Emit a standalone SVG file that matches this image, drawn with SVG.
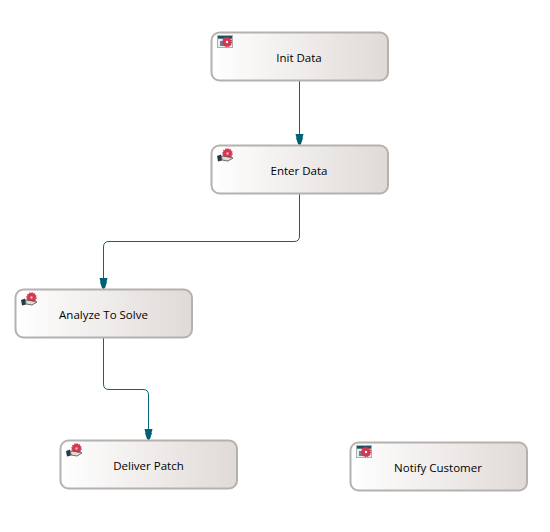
<svg xmlns="http://www.w3.org/2000/svg" width="550" height="532" viewBox="0 0 550 532">
<style>
.box{fill:url(#g);stroke:#b4b1ae;stroke-width:2}
.t{font-family:"Open Sans","Liberation Sans",sans-serif;font-size:11.5px;fill:#000;text-anchor:middle}
.c{fill:none;stroke:#006a7c;stroke-width:1}
.gear{fill:#d2384f;stroke:#d2384f;stroke-width:1.500;stroke-dasharray:1.300 1}
.hub{fill:#fff}
</style>
<defs>
<linearGradient id="g" x1="0" y1="0" x2="1" y2="0"><stop offset="0" stop-color="#fff"/><stop offset="1" stop-color="#e0dad7"/></linearGradient>
<marker id="a" markerUnits="userSpaceOnUse" markerWidth="14" markerHeight="10" refX="12" refY="5" orient="auto" viewBox="0 0 14 10"><path d="M1 1 L5 2 V8 L1 9 Z M5 1.500 L11 3.500 L12 5 L11 6.500 L5 8.500 Z" fill="#006073"/></marker>
<g id="win">
<rect x="0" y="0" width="16" height="13" fill="#a9b0b3"/>
<rect x="1" y="1" width="14" height="2.500" fill="#1e4f66"/>
<rect x="1" y="4" width="14" height="8" fill="#e8eef0"/>
<rect x="3" y="6" width="4" height="5" fill="#6f7f8f"/>
<circle cx="10" cy="7" r="4.500" class="gear"/>
<circle cx="10" cy="7" r="1.200" class="hub"/>
</g>
<g id="hand">
<circle cx="10.500" cy="5.500" r="4.500" class="gear"/>
<circle cx="10.500" cy="5.500" r="1.200" fill="#f3b9c2"/>
<path d="M0 8 L4 6.500 L5 12.500 L1 13.500 Z" fill="#243a4a"/>
<path d="M4.500 8 L9 8.500 L16 10 L11 13 L5 12 Z" fill="#e8d8cc" stroke="#4a4a50" stroke-width=".8"/>
</g>
</defs>
<g id="connectors">
<path class="c" marker-end="url(#a)" d="M299.500 81 V145"/>
<path class="c" marker-end="url(#a)" d="M299.500 194 V236 Q299.500 241.500 294 241.500 H109 Q103.500 241.500 103.500 247 V289"/>
<path class="c" marker-end="url(#a)" d="M103.500 338 V384 Q103.500 389.500 109 389.500 H143 Q148.500 389.500 148.500 395 V440"/>
</g>
<g id="init-data"><rect class="box" x="211.500" y="32.500" width="176.500" height="48" rx="8"/><use href="#win" x="217" y="35"/><text class="t" x="299" y="62">Init Data</text></g>
<g id="enter-data"><rect class="box" x="211.500" y="145.500" width="176.500" height="48" rx="8"/><use href="#hand" x="217" y="148"/><text class="t" x="299" y="175">Enter Data</text></g>
<g id="analyze-to-solve"><rect class="box" x="15.500" y="289.500" width="176.500" height="48" rx="8"/><use href="#hand" x="21" y="292"/><text class="t" x="103.500" y="319">Analyze To Solve</text></g>
<g id="deliver-patch"><rect class="box" x="60.500" y="440.500" width="176.500" height="48" rx="8"/><use href="#hand" x="66" y="443"/><text class="t" x="148.500" y="470">Deliver Patch</text></g>
<g id="notify-customer"><rect class="box" x="350.500" y="442.500" width="176.500" height="48" rx="8"/><use href="#win" x="356" y="445"/><text class="t" x="438" y="472">Notify Customer</text></g>
</svg>
